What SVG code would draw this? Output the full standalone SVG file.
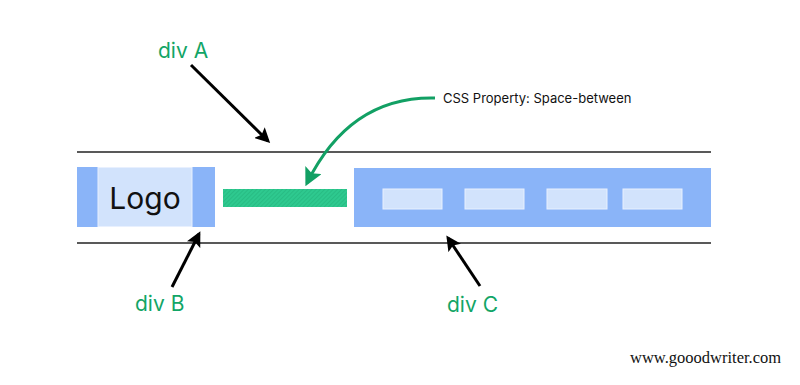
<svg xmlns="http://www.w3.org/2000/svg" width="800" height="385" viewBox="0 0 800 385">
<style>
.lbl{font-family:Inter,"Open Sans",sans-serif;font-size:21px;fill:#12a566}
.blue{fill:#8ab4f8}
.light{fill:#d2e3fc;stroke:#e8f0fe;stroke-width:1}
.rule{stroke:#222;stroke-width:1.5}
.arr{stroke:#000;stroke-width:3;fill:none;marker-end:url(#ah)}
</style>
<defs>
<marker id="ah" viewBox="0 0 10 10" refX="8" refY="5" markerWidth="5" markerHeight="5" orient="auto" markerUnits="strokeWidth"><path d="M0,0 L10,5 L0,10 L2,5 Z" fill="#000"/></marker>
<marker id="ahg" viewBox="0 0 10 10" refX="8" refY="5" markerWidth="6" markerHeight="6" orient="auto" markerUnits="strokeWidth"><path d="M0,0 L10,5 L0,10 L2,5 Z" fill="#12a064"/></marker>
<pattern id="hatch" width="3" height="3" patternUnits="userSpaceOnUse" patternTransform="rotate(45)"><rect width="3" height="3" fill="#2ec98f"/><line x1="0" y1="0" x2="0" y2="3" stroke="#22b07a" stroke-width="1"/></pattern>
</defs>
<rect width="800" height="385" fill="#fff"/>
<g id="divA">
<line class="rule" x1="77" y1="152" x2="711" y2="152"/>
<line class="rule" x1="77" y1="243" x2="711" y2="243"/>
<text class="lbl" x="158" y="58">div A</text>
</g>
<g id="divB">
<rect class="blue" x="77" y="167" width="138" height="60"/>
<rect class="light" x="98" y="167.5" width="94" height="59"/>
<text x="145" y="209" font-family="Inter,'Open Sans',sans-serif" font-size="30" text-anchor="middle" fill="#111">Logo</text>
<text class="lbl" x="135" y="311">div B</text>
</g>
<g id="space">
<rect x="223" y="189" width="124" height="18" fill="url(#hatch)"/>
<text x="443" y="103" font-family="Inter,'Open Sans',sans-serif" font-size="13" fill="#111">CSS Property: Space-between</text>
</g>
<g id="divC">
<rect class="blue" x="354" y="168" width="357" height="59"/>
<rect class="light" x="383" y="189" width="59" height="20"/>
<rect class="light" x="465" y="189" width="59" height="20"/>
<rect class="light" x="547" y="189" width="60" height="20"/>
<rect class="light" x="623" y="189" width="59" height="20"/>
<text class="lbl" x="447" y="312">div C</text>
</g>
<g id="connectors">
<line class="arr" x1="191" y1="65" x2="268" y2="141"/>
<line class="arr" x1="172" y1="287" x2="199" y2="234"/>
<line class="arr" x1="480" y1="286" x2="448" y2="238"/>
<path d="M435,98 Q350,96 307,183" stroke="#12a064" stroke-width="3" fill="none" marker-end="url(#ahg)"/>
</g>
<text x="630" y="363" font-family="'Liberation Serif',serif" font-size="16.5" fill="#111">www.gooodwriter.com</text>
</svg>
